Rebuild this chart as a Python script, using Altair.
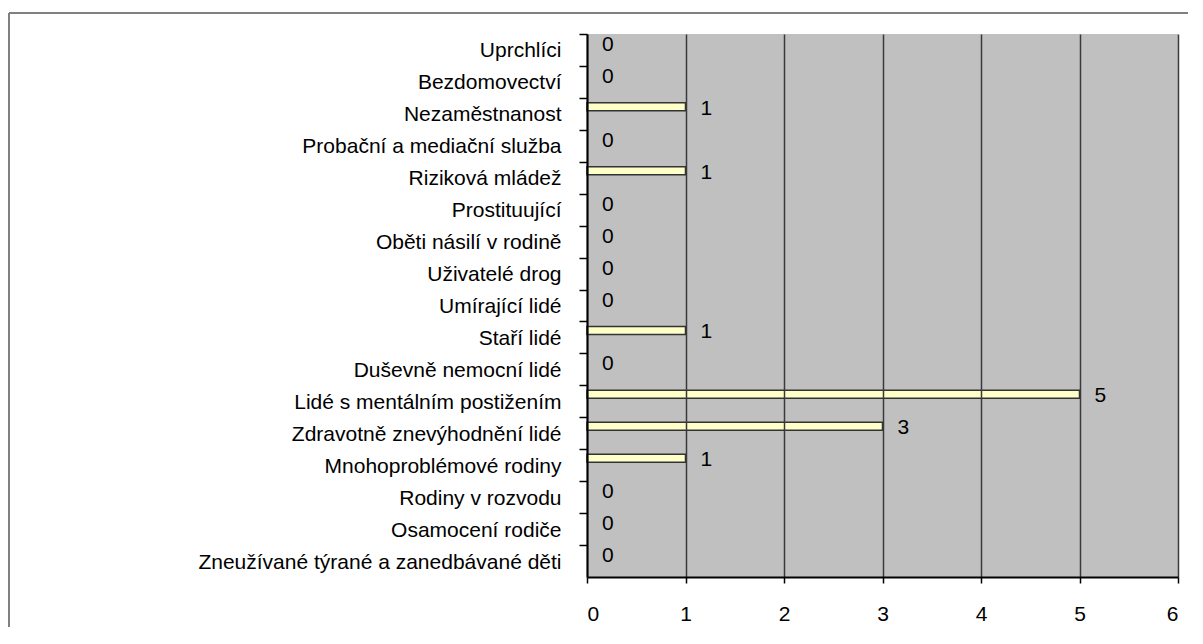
import altair as alt
import pandas as pd

categories = [
    "Uprchlíci",
    "Bezdomovectví",
    "Nezaměstnanost",
    "Probační a mediační služba",
    "Riziková mládež",
    "Prostituující",
    "Oběti násilí v rodině",
    "Uživatelé drog",
    "Umírající lidé",
    "Staří lidé",
    "Duševně nemocní lidé",
    "Lidé s mentálním postižením",
    "Zdravotně znevýhodnění lidé",
    "Mnohoproblémové rodiny",
    "Rodiny v rozvodu",
    "Osamocení rodiče",
    "Zneužívané týrané a zanedbávané děti",
]
values = [0, 0, 1, 0, 1, 0, 0, 0, 0, 1, 0, 5, 3, 1, 0, 0, 0]
x_ticks = [0, 1, 2, 3, 4, 5, 6]

df = pd.DataFrame({"kategorie": categories, "pocet": values})
one = pd.DataFrame({"k": [0]})

FONT = "Liberation Sans"
W, H = 591, 543

y_enc = alt.Y(
    "kategorie:N",
    sort=categories,
    scale=alt.Scale(domain=categories, paddingInner=0, paddingOuter=0),
    axis=alt.Axis(
        title=None, labelFont=FONT, labelFontSize=21, labelColor="#000000",
        labelPadding=18, labelLimit=0, tickOffset=-16, labelOffset=17,
        tickSize=8, tickColor="#000000", tickWidth=1.5,
        domainColor="#000000", domainWidth=2, grid=False, zindex=2,
    ),
)
x_enc = alt.X(
    "pocet:Q",
    scale=alt.Scale(domain=[0, 6], nice=False, zero=True),
    axis=alt.Axis(
        title=None, values=x_ticks, format="d", labelFont=FONT, labelFontSize=21,
        labelColor="#000000", labelPadding=20, tickSize=6, tickColor="#000000",
        tickWidth=1.5, domainColor="#000000", domainWidth=2,
        grid=True, gridColor="#3a3a3a", gridWidth=1.5, zindex=1,
    ),
)

plot_bg = alt.Chart(one).mark_rect(fill="#C0C0C0").encode(
    x=alt.value(0), x2=alt.value(W), y=alt.value(0), y2=alt.value(H)
)

bars = alt.Chart(df).transform_filter("datum.pocet > 0").mark_bar(
    size=8, yOffset=-7, fill="#FFFFC8", stroke="#333333", strokeWidth=1.5
).encode(x=x_enc, y=y_enc)

labels = alt.Chart(df).mark_text(
    align="left", baseline="middle", dx=15, dy=-5, font=FONT, fontSize=21, color="#000000"
).encode(x=x_enc, y=y_enc, text="pocet:Q")

frame_left = alt.Chart(one).mark_rule(color="#808080", strokeWidth=2).encode(
    x=alt.value(-578), y=alt.value(-21), y2=alt.value(620)
)
frame_top = alt.Chart(one).mark_rule(color="#808080", strokeWidth=2).encode(
    x=alt.value(-578), x2=alt.value(620), y=alt.value(-21)
)

chart = alt.layer(plot_bg, bars, labels, frame_left, frame_top).properties(
    width=W,
    height=H,
    padding={"left": 579, "top": 26, "right": 10, "bottom": 50},
    autosize=alt.AutoSizeParams(type="none"),
    view=alt.ViewBackground(fill="#C0C0C0", strokeWidth=0),
).configure(background="white")

chart.save("out.html", embed_options={"renderer": "svg", "actions": False})
